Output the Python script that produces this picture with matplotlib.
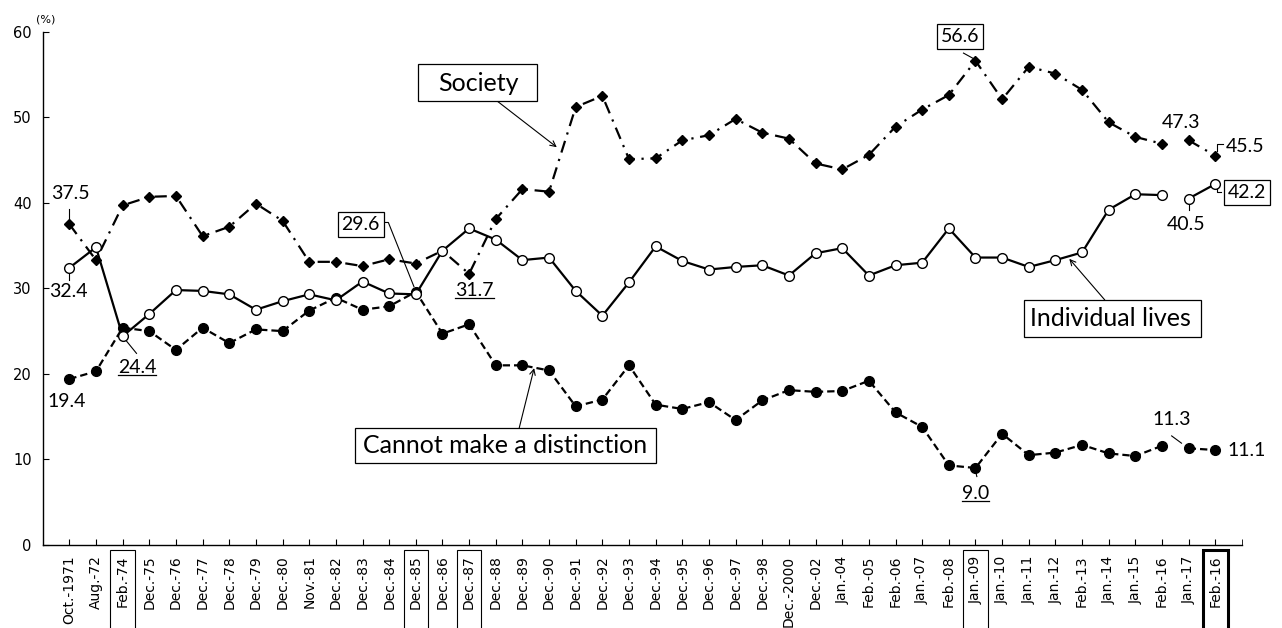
import matplotlib
matplotlib.use("Agg")
import matplotlib.pyplot as plt
import matplotlib.transforms as mtransforms
from matplotlib.patches import Rectangle
import numpy as np

labels = ["Oct.-1971", "Aug.-72", "Feb.-74", "Dec.-75", "Dec.-76", "Dec.-77", "Dec.-78",
          "Dec.-79", "Dec.-80", "Nov.-81", "Dec.-82", "Dec.-83", "Dec.-84", "Dec.-85",
          "Dec.-86", "Dec.-87", "Dec.-88", "Dec.-89", "Dec.-90", "Dec.-91", "Dec.-92",
          "Dec.-93", "Dec.-94", "Dec.-95", "Dec.-96", "Dec.-97", "Dec.-98", "Dec.-2000",
          "Dec.-02", "Jan.-04", "Feb.-05", "Feb.-06", "Jan.-07", "Feb.-08", "Jan.-09",
          "Jan.-10", "Jan.-11", "Jan.-12", "Feb.-13", "Jan.-14", "Jan.-15", "Feb.-16",
          "Jan.-17", "Feb.-16"]

society = [37.5, 33.3, 39.7, 40.7, 40.8, 36.1, 37.2, 39.9, 37.9, 33.1, 33.1, 32.6, 33.4, 32.9,
           34.4, 31.7, 38.1, 41.6, 41.3, 51.2, 52.5, 45.1, 45.2, 47.3, 47.9, 49.8, 48.2, 47.5,
           44.6, 43.9, 45.6, 48.9, 50.9, 52.6, 56.6, 52.1, 55.9, 55.1, 53.2, 49.4, 47.7, 46.9,
           47.3, 45.5]
individual = [32.4, 34.8, 24.4, 27.0, 29.8, 29.7, 29.3, 27.5, 28.5, 29.3, 28.6, 30.8, 29.4, 29.3,
              34.4, 37.0, 35.7, 33.3, 33.6, 29.7, 26.8, 30.7, 34.9, 33.2, 32.2, 32.5, 32.7, 31.5,
              34.1, 34.7, 31.5, 32.7, 33.0, 37.0, 33.6, 33.6, 32.5, 33.3, 34.2, 39.2, 41.0, 40.9,
              40.5, 42.2]
cannot = [19.4, 20.3, 25.4, 25.0, 22.8, 25.4, 23.6, 25.2, 25.0, 27.4, 28.9, 27.5, 27.9, 29.6,
          24.7, 25.8, 21.0, 21.0, 20.4, 16.2, 17.0, 21.0, 16.4, 15.9, 16.7, 14.6, 16.9, 18.1,
          17.9, 18.0, 19.2, 15.5, 13.8, 9.3, 9.0, 13.0, 10.5, 10.8, 11.7, 10.7, 10.4, 11.6,
          11.3, 11.1]

boxed_ticks = [2, 13, 15, 34]
bold_tick = 43
brk = 42  # survey method changed: lines break before Jan.-17

x = np.arange(len(labels))
society = np.array(society)
individual = np.array(individual)
cannot = np.array(cannot)

fig = plt.figure(figsize=(12.82, 6.28), dpi=100)
ax = fig.add_axes([0.0333, 0.1322, 0.9355, 0.8173])

for seg in (slice(0, brk), slice(brk, None)):
    ax.plot(x[seg], society[seg], color="black", lw=1.6, ls=(0, (5.5, 3, 1, 3)),
            marker="D", ms=5.5, mfc="black", mec="black", zorder=3)
    ax.plot(x[seg], cannot[seg], color="black", lw=1.6, ls=(0, (3.3, 1.8)),
            marker="o", ms=7, mfc="black", mec="black", zorder=3)
    ax.plot(x[seg], individual[seg], color="black", lw=1.6, ls="-",
            marker="o", ms=7, mfc="white", mec="black", mew=1, zorder=4)

ax.set_xlim(-1, 44)
ax.set_ylim(0, 60)
ax.set_yticks(np.arange(0, 61, 10))
ax.set_xticks(x)
ax.set_xticklabels(labels, rotation=90, fontsize=10)
ax.set_xticks([44], minor=True)
ax.tick_params(axis="x", which="both", direction="in", length=4, pad=7.5)
ax.tick_params(axis="y", direction="in", length=4, pad=8, labelsize=10.5)
ax.spines["top"].set_visible(False)
ax.spines["right"].set_visible(False)
for s in ("left", "bottom"):
    ax.spines[s].set_linewidth(1.0)

ax.text(-0.9, 61.4, "(%)", fontsize=8, ha="center", va="center", clip_on=False)

# boxes round some of the survey dates
trans = mtransforms.blended_transform_factory(ax.transData, ax.transAxes)
for i in boxed_ticks:
    ax.add_patch(Rectangle((i - 0.46, -0.26), 0.92, 0.25, transform=trans, fill=False,
                           lw=0.8, ec="black", clip_on=False))
ax.add_patch(Rectangle((bold_tick - 0.46, -0.26), 0.92, 0.25, transform=trans, fill=False,
                       lw=2.2, ec="black", clip_on=False))

fnt = "Lato"
lab = dict(fontsize=14, family=fnt, ha="center", va="center", clip_on=False)
box = dict(boxstyle="square,pad=0.2", fc="white", ec="black", lw=0.9)
lead = dict(color="black", lw=0.8, clip_on=False)


def underline(t):
    fig.canvas.draw()
    bb = t.get_window_extent()
    inv = ax.transData.inverted()
    (x0, y0), (x1, _) = inv.transform([(bb.x0, bb.y0 + 1), (bb.x1, bb.y0 + 1)])
    ax.plot([x0, x1], [y0, y0], color="black", lw=0.9, clip_on=False)


def name_box(x0, x1, y0, y1, text, tx, ty):
    ax.add_patch(Rectangle((x0, y0), x1 - x0, y1 - y0, fc="white", ec="black", lw=0.9,
                           zorder=5, clip_on=False))
    ax.text(tx, ty, text, fontsize=18, family=fnt, ha="center", va="center", zorder=6)


# value labels
ax.text(0.03, 41.05, f"{society[0]:.1f}", **lab)
ax.plot([0, 0], [39.3, 37.9], **lead)
ax.text(-0.05, 29.6, f"{individual[0]:.1f}", **lab)
ax.plot([0, 0], [31.9, 31.0], **lead)
ax.text(-0.1, 16.8, f"{cannot[0]:.1f}", **lab)

t = ax.text(2.55, 20.7, f"{individual[2]:.1f}", **lab)
underline(t)
ax.plot([2.52, 2.05], [22.4, 24.2], **lead)

ax.text(10.93, 37.5, f"{cannot[13]:.1f}", bbox=box, **lab)
ax.plot([11.78, 11.97, 12.93], [37.7, 37.7, 30.2], **lead)

t = ax.text(15.2, 29.7, f"{society[15]:.1f}", **lab)
underline(t)

ax.text(33.42, 59.4, f"{society[34]:.1f}", bbox=box, **lab)
ax.plot([33.55, 33.9], [57.5, 56.9], **lead)
t = ax.text(34.0, 6.05, f"{cannot[34]:.1f}", **lab)
underline(t)
ax.plot([34.0, 34.05], [8.7, 8.0], **lead)

ax.text(41.72, 49.4, f"{society[42]:.1f}", **lab)
ax.text(41.89, 37.5, f"{individual[42]:.1f}", **lab)
ax.plot([42, 42], [40.0, 39.2], **lead)
ax.text(41.36, 14.7, f"{cannot[42]:.1f}", **lab)
ax.plot([41.36, 41.73], [12.75, 11.9], **lead)

ax.text(43.38, 46.6, f"{society[43]:.1f}", **{**lab, "ha": "left"})
ax.plot([43.07, 43.07, 43.27], [46.1, 46.9, 46.9], **lead)
ax.text(44.2, 41.2, f"{individual[43]:.1f}", bbox=box, **lab)
ax.plot([43.05, 43.05, 43.22], [41.8, 41.3, 41.3], **lead)
ax.text(43.47, 11.0, f"{cannot[43]:.1f}", **{**lab, "ha": "left"})

# series names
arr = dict(arrowstyle="->", lw=0.8, color="black", shrinkA=0, shrinkB=0)
name_box(13.10, 17.55, 51.85, 56.22, "Society", 15.33, 54.0)
ax.annotate("", xy=(18.29, 46.5), xytext=(16.07, 51.85), arrowprops=arr)
name_box(35.83, 42.46, 24.33, 28.65, "Individual lives", 39.07, 26.45)
ax.annotate("", xy=(37.52, 33.45), xytext=(38.85, 28.65), arrowprops=arr)
name_box(10.70, 22.01, 9.59, 13.68, "Cannot make a distinction", 16.36, 11.6)
ax.annotate("", xy=(17.44, 20.67), xytext=(16.88, 13.68), arrowprops=arr)

fig.savefig("out.png", dpi=100)
